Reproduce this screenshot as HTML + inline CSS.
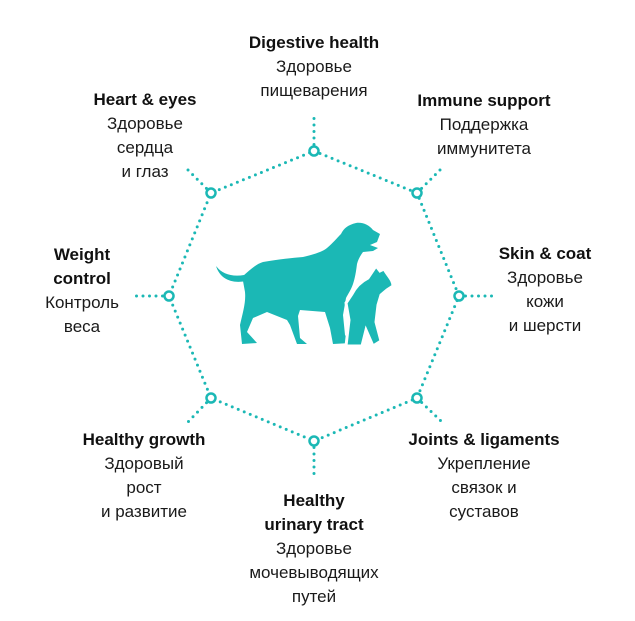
<!DOCTYPE html>
<html><head><meta charset="utf-8"><style>
body{margin:0;background:#fff;width:635px;height:621px;overflow:hidden;position:relative;font-family:"Liberation Sans",Arial,sans-serif;color:#1a1a1a}
.l{position:absolute;text-align:center;font-size:17px;line-height:24px;white-space:nowrap;transform:translateX(-50%)}
.l b{font-weight:bold;color:#111}
svg{position:absolute;left:0;top:0}
</style></head><body>
<svg width="635" height="621" viewBox="0 0 635 621">
<g stroke="#1bb8b5" stroke-width="3" stroke-linecap="round" stroke-dasharray="0 6.5" fill="none">
<polygon points="314,151 417,193 459,296 417,398 314,441 211,398 169,296 211,193"/>
<line x1="314" y1="151" x2="314" y2="115"/>
<line x1="417" y1="193" x2="442" y2="168"/>
<line x1="459" y1="296" x2="495" y2="296"/>
<line x1="417" y1="398" x2="443" y2="423"/>
<line x1="314" y1="441" x2="314" y2="478"/>
<line x1="211" y1="398" x2="187" y2="423"/>
<line x1="169" y1="296" x2="134" y2="296"/>
<line x1="211" y1="193" x2="186" y2="168"/>
</g>
<g stroke="#1bb8b5" stroke-width="2.5" fill="#fff">
<circle cx="314" cy="151" r="4.5"/><circle cx="417" cy="193" r="4.5"/><circle cx="459" cy="296" r="4.5"/><circle cx="417" cy="398" r="4.5"/>
<circle cx="314" cy="441" r="4.5"/><circle cx="211" cy="398" r="4.5"/><circle cx="169" cy="296" r="4.5"/><circle cx="211" cy="193" r="4.5"/>
</g>
<path fill="#1bb8b5" d="M217,267 C222,276 232,279 243,276 C250,270 256,264 263,262 C280,259 292,258 303,257 C315,254 322,252 327,248 C333,243 337,238 341,234 C344,228 348,225 356,223 C363,222 369,225 373,230 L380,234 L377,242 L370,245 L378,248 L373,251 L363,252 C360,256 358,260 357,264 C356,272 355,278 353,284 C351,290 348,294 346,298 L343,315 L345,335 L351,343 L333,344 L330,328 L325,312 L300,310 L298,316 L300,338 L307,344 L297,344 L290,325 L287,320 L267,312 L253,318 L247,332 L257,343 L242,344 L240,325 C243,312 246,302 245,292 L243,281 C232,283 220,279 217,267 Z"/>
<path fill="#1bb8b5" stroke="#fff" stroke-width="3" d="M346,346 L349,320 L346,303 L352,294 C356,286 362,281 368,278 L376,266 L380,271 L384,269 C388,276 393,280 393,286 L387,290 L381,295 L378,305 L376,322 L381,341 L373,346 L366,330 L362,346 Z"/>
<path fill="#1bb8b5" d="M216,266 C222,274 232,277 244,275 L246,281 C232,284 220,279 216,266 Z"/>
</svg>
<div class="l" style="left:314px;top:31px"><b>Digestive health</b><br>Здоровье<br>пищеварения</div>
<div class="l" style="left:145px;top:88px"><b>Heart &amp; eyes</b><br>Здоровье<br>сердца<br>и глаз</div>
<div class="l" style="left:484px;top:89px"><b>Immune support</b><br>Поддержка<br>иммунитета</div>
<div class="l" style="left:545px;top:242px"><b>Skin &amp; coat</b><br>Здоровье<br>кожи<br>и шерсти</div>
<div class="l" style="left:82px;top:243px"><b>Weight<br>control</b><br>Контроль<br>веса</div>
<div class="l" style="left:144px;top:428px"><b>Healthy growth</b><br>Здоровый<br>рост<br>и развитие</div>
<div class="l" style="left:484px;top:428px"><b>Joints &amp; ligaments</b><br>Укрепление<br>связок и<br>суставов</div>
<div class="l" style="left:314px;top:489px"><b>Healthy<br>urinary tract</b><br>Здоровье<br>мочевыводящих<br>путей</div>
</body></html>
